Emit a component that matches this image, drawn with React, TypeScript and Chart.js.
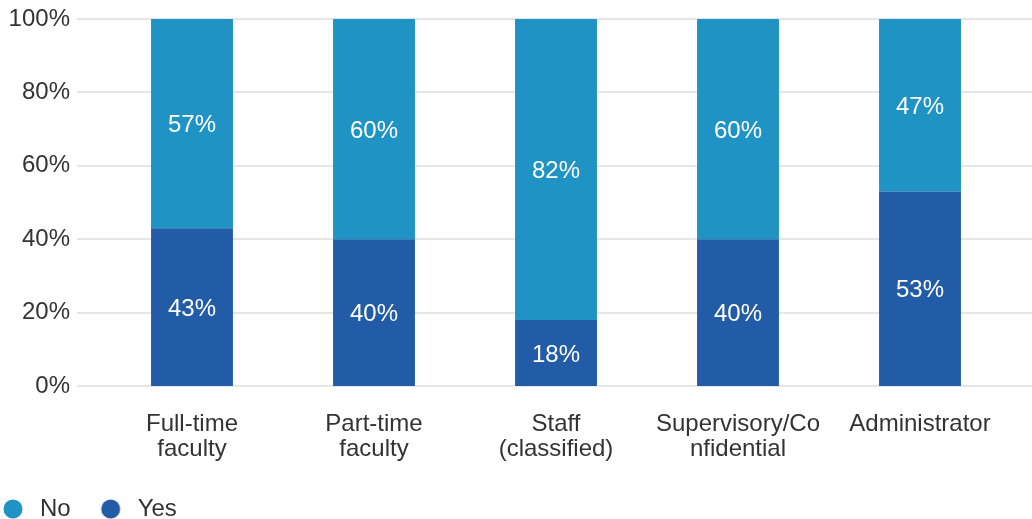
import React, { useEffect, useRef } from "react";
import { Chart, registerables } from "chart.js";

Chart.register(...registerables);

const categories: (string | string[])[] = [
  ["Full-time", "faculty"],
  ["Part-time", "faculty"],
  ["Staff", "(classified)"],
  ["Supervisory/Co", "nfidential"],
  "Administrator",
];
const yesValues = [43, 40, 18, 40, 53];
const noValues = [57, 60, 82, 60, 47];
const seriesNames = ["Yes", "No"];
const yTickValues = [0, 20, 40, 60, 80, 100];

const YES_COLOR = "#225ca7";
const NO_COLOR = "#1f93c4";
const TEXT_COLOR = "#333333";
const GRID_COLOR = "#e6e6e6";
const FONT = "'Liberation Sans', Arial, Helvetica, sans-serif";
const FS = 24;

const gridPlugin = {
  id: "fullGrid",
  beforeDatasetsDraw(chart: any) {
    const y = chart.scales.y;
    const ctx = chart.ctx;
    ctx.save();
    ctx.strokeStyle = GRID_COLOR;
    ctx.lineWidth = 2;
    for (const v of yTickValues) {
      const py = Math.round(y.getPixelForValue(v));
      ctx.beginPath();
      ctx.moveTo(77, py);
      ctx.lineTo(chart.width, py);
      ctx.stroke();
    }
    ctx.restore();
  },
};

const labelPlugin = {
  id: "segLabels",
  afterDatasetsDraw(chart: any) {
    const ctx = chart.ctx;
    ctx.save();
    ctx.fillStyle = "#ffffff";
    ctx.font = `${FS}px ${FONT}`;
    ctx.textAlign = "center";
    ctx.textBaseline = "alphabetic";
    const capHalf = FS * 0.716 / 2;
    chart.data.datasets.forEach((ds: any, di: number) => {
      const meta = chart.getDatasetMeta(di);
      meta.data.forEach((el: any, i: number) => {
        const v = ds.data[i];
        const cy = (el.y + el.base) / 2;
        ctx.fillText(`${v}%`, el.x, cy + capHalf);
      });
    });
    ctx.restore();
  },
};

export default function App() {
  const ref = useRef<HTMLCanvasElement | null>(null);

  useEffect(() => {
    document.body.style.margin = "0";
    if (!ref.current) return;

    const makeDot = (color: string) => {
      const c = document.createElement("canvas");
      c.width = 40;
      c.height = 20;
      const x = c.getContext("2d")!;
      x.fillStyle = color;
      x.beginPath();
      x.arc(15, 10, 9.5, 0, Math.PI * 2);
      x.fill();
      return c;
    };

    const chart = new Chart(ref.current, {
      type: "bar",
      data: {
        labels: categories,
        datasets: [
          {
            label: seriesNames[0],
            data: yesValues,
            backgroundColor: YES_COLOR,
            pointStyle: makeDot(YES_COLOR) as any,
          },
          {
            label: seriesNames[1],
            data: noValues,
            backgroundColor: NO_COLOR,
            pointStyle: makeDot(NO_COLOR) as any,
          },
        ],
      },
      options: {
        responsive: false,
        animation: false,
        barPercentage: 0.45,
        categoryPercentage: 1,
        layout: { padding: { top: 19, left: -27, right: 21, bottom: -12 } },
        plugins: {
          tooltip: { enabled: false },
          legend: {
            position: "bottom",
            align: "start",
            reverse: true,
            labels: {
              usePointStyle: true,
              boxWidth: 20,
              boxHeight: 20,
              padding: 35,
              color: TEXT_COLOR,
              font: { family: FONT, size: FS },
            },
          },
        },
        scales: {
          x: {
            stacked: true,
            grid: { display: false, drawTicks: false },
            border: { display: false },
            ticks: {
              color: TEXT_COLOR,
              font: { family: FONT, size: FS, lineHeight: 25 / FS },
              padding: 26,
              autoSkip: false,
              maxRotation: 0,
            },
            afterFit: (s: any) => {
              s.height = 76;
            },
          },
          y: {
            stacked: true,
            min: 0,
            max: 100,
            grid: { display: false, drawTicks: true, tickLength: 31 },
            border: { display: false },
            ticks: {
              stepSize: 20,
              color: TEXT_COLOR,
              font: { family: FONT, size: FS },
              padding: 0,
              callback: (v: any) => `${v}%`,
            },
            afterFit: (s: any) => {
              s.width = 128;
            },
          },
        },
      },
      plugins: [gridPlugin, labelPlugin],
    });
    return () => chart.destroy();
  }, []);

  return (
    <div>
      <canvas ref={ref} width={1032} height={519} style={{ display: "block" }} />
    </div>
  );
}
